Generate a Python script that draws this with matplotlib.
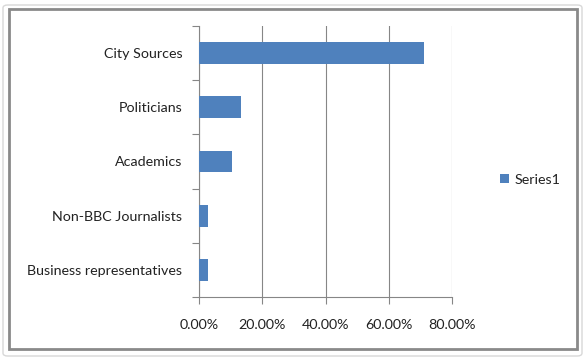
import matplotlib
matplotlib.use("Agg")
import matplotlib.pyplot as plt
from matplotlib.patches import Rectangle, FancyBboxPatch
from matplotlib.ticker import FuncFormatter

categories = ["City Sources", "Politicians", "Academics", "Non-BBC Journalists", "Business representatives"]
values = [71.1, 13.3, 10.5, 2.7, 2.7]
series_name = "Series1"
xticks = [0, 20, 40, 60, 80]

plt.rcParams['font.family'] = ['Lato', 'DejaVu Sans']

W, H = 585, 360
fig = plt.figure(figsize=(W/100, H/100), dpi=100)
fig.patch.set_facecolor('white')

# outer light border
fig.patches.append(FancyBboxPatch((3/W, 4/H), 579/W, 351/H, boxstyle="round,pad=0,rounding_size=0.008",
                                  transform=fig.transFigure, fill=False, edgecolor='#d8d8d8', linewidth=1.0))
# darker frame
fig.patches.append(Rectangle((8.5/W, (H-349)/H), 568/W, 340/H, transform=fig.transFigure,
                             fill=False, edgecolor='#8a8a8a', linewidth=2.0))

left, right, top, bottom = 199, 452, 26, 297
ax = fig.add_axes([left/W, (H-bottom)/H, (right-left)/W, (bottom-top)/H])

ypos = list(range(len(categories)))[::-1]
ax.barh(ypos, values, height=0.4, color='#4f81bd', label=series_name, zorder=3)

ax.set_xlim(0, 80)
ax.set_ylim(-0.5, len(categories)-0.5)
ax.set_xticks(xticks)
ax.xaxis.set_major_formatter(FuncFormatter(lambda v, p: f"{v:.2f}%"))
ax.set_yticks(ypos)
ax.set_yticklabels(categories)
ax.set_yticks([i - 0.5 for i in range(len(categories)+1)], minor=True)

ax.grid(axis='x', color='#868686', linewidth=0.8, zorder=0)
for s in ['top', 'right']:
    ax.spines[s].set_visible(False)
for s in ['left', 'bottom']:
    ax.spines[s].set_color('#868686')
    ax.spines[s].set_linewidth(0.8)

ax.tick_params(axis='y', which='major', length=0, pad=12, labelsize=10.3, labelcolor='#222222')
ax.tick_params(axis='y', which='minor', length=5, color='#868686', width=0.8)
ax.tick_params(axis='x', which='major', length=5, color='#868686', width=0.8, pad=11, labelsize=10.3, labelcolor='#222222')

leg = fig.legend(loc='center left', bbox_to_anchor=(500/W, (H-180)/H), frameon=False, borderpad=0,
                 borderaxespad=0, fontsize=10.3, handlelength=0.6, handleheight=0.6, handletextpad=0.4,
                 labelcolor='#222222')

fig.savefig("out.png", dpi=100)
